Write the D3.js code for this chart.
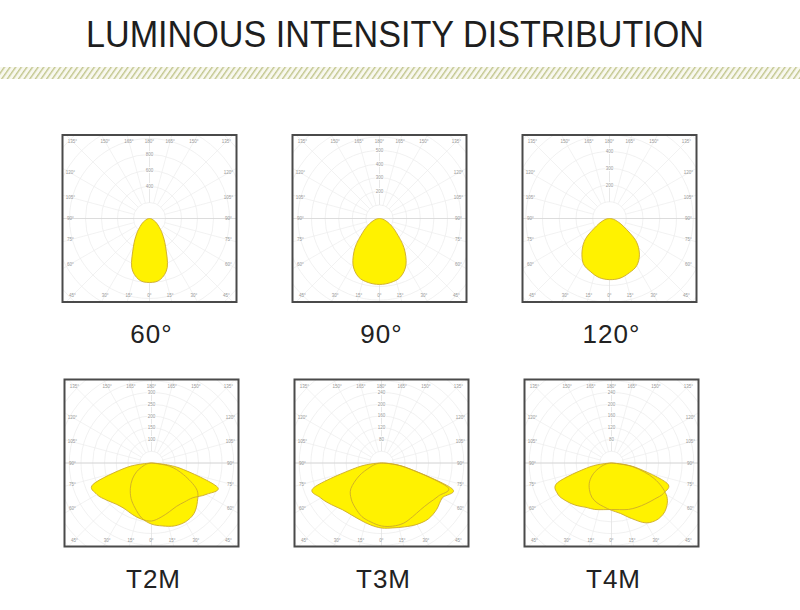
<!DOCTYPE html>
<html>
<head>
<meta charset="utf-8">
<script src="https://cdn.jsdelivr.net/npm/d3@7"></script>
<style>
  body { margin: 0; background: #fff; }
  text { font-family: "Liberation Sans", Arial, sans-serif; }
</style>
</head>
<body>
<div id="chart"></div>
<script>
// angles from nadir, negative = left half of the polar plot
var gamma = [-90,-80,-70,-60,-50,-40,-30,-20,-10,0,10,20,30,40,50,60,70,80,90];

// intensities (cd)
var beam60   = [0,20,45,90,150,250,400,650,775,800,775,650,400,250,150,90,45,20,0];
var beam90   = [0,22,50,95,162,280,390,456,478,485,478,456,390,280,162,95,50,22,0];
var beam120  = [0,20,45,90,185,255,312,336,358,365,362,345,325,278,205,100,50,22,0];
var t2mC0    = [0,106,264,268,247,230,226,234,243,247,234,221,213,217,230,268,298,119,0];
var t2mC90   = [0,17,38,72,106,140,174,204,238,260,272,285,289,281,255,221,145,77,0];
var t3mC0    = [0,82,245,238,221,207,204,207,214,221,224,231,241,248,245,238,255,82,0];
var t3mC90   = [0,17,41,88,136,160,177,194,204,214,218,218,211,207,211,224,238,82,0];
var t4mC0    = [0,74,195,211,201,188,174,168,161,158,161,168,174,181,191,205,201,81,0];
var t4mC90   = [0,17,40,70,97,117,134,144,151,161,174,201,235,248,242,215,154,74,0];

// ring labels on the 180° axis
var rings60  = [400,600,800];
var rings90  = [200,300,400,500];
var rings120 = [200,300,400];
var ringsT2M = [100,150,200,250,300];
var ringsT3M = [80,120,160,200,240];
var ringsT4M = [80,120,160,200,240];

var chartNames = ["60°","90°","120°","T2M","T3M","T4M"];
var angleTicks = [0,15,30,45,60,75,90,105,120,135,150,165,180];

var width = 800, height = 610;

var svg = d3.select("#chart").append("svg")
    .attr("width", width)
    .attr("height", height);

svg.append("rect").attr("width", width).attr("height", height).attr("fill", "#fff");

var defs = svg.append("defs");
var hatch = defs.append("pattern")
    .attr("id", "hatch")
    .attr("patternUnits", "userSpaceOnUse")
    .attr("width", 4.6).attr("height", 4.6)
    .attr("patternTransform", "rotate(35)");
hatch.append("rect").attr("width", 4.6).attr("height", 4.6).attr("fill", "#f8f8ef");
hatch.append("rect").attr("width", 1.4).attr("height", 4.6).attr("fill", "#c2c68d");

svg.append("text")
    .attr("x", 395)
    .attr("y", 47)
    .attr("text-anchor", "middle")
    .attr("textLength", 618)
    .attr("lengthAdjust", "spacingAndGlyphs")
    .style("font-size", "37px")
    .style("fill", "#1e1e1e")
    .text("LUMINOUS INTENSITY DISTRIBUTION");

svg.append("rect")
    .attr("x", 0).attr("y", 67)
    .attr("width", width).attr("height", 12)
    .attr("fill", "url(#hatch)");

var panels = [
  {name: chartNames[0], cx: 149.5, cy: 218.5, max: 800, rmax: 64,   step: 200, rings: rings60,  curves: [beam60]},
  {name: chartNames[1], cx: 379.5, cy: 218.5, max: 500, rmax: 68,   step: 100, rings: rings90,  curves: [beam90]},
  {name: chartNames[2], cx: 609.5, cy: 218.5, max: 400, rmax: 67,   step: 100, rings: rings120, curves: [beam120]},
  {name: chartNames[3], cx: 151.5, cy: 463,   max: 300, rmax: 70.5, step: 50,  rings: ringsT2M, curves: [t2mC0, t2mC90]},
  {name: chartNames[4], cx: 381.5, cy: 463,   max: 240, rmax: 70.6, step: 40,  rings: ringsT3M, curves: [t3mC0, t3mC90]},
  {name: chartNames[5], cx: 611.5, cy: 463,   max: 240, rmax: 70.6, step: 40,  rings: ringsT4M, curves: [t4mC0, t4mC90]}
];

var boxW = 174, boxH = 167;

panels.forEach(function(p, i) {
    var r = d3.scaleLinear().domain([0, p.max]).range([0, p.rmax]);
    var g = svg.append("g").attr("transform", "translate(" + p.cx + "," + p.cy + ")");

    defs.append("clipPath").attr("id", "clip" + i)
      .append("rect")
        .attr("x", -boxW / 2).attr("y", -boxH / 2)
        .attr("width", boxW).attr("height", boxH);

    var grid = g.append("g").attr("clip-path", "url(#clip" + i + ")");
    var outer = Math.sqrt(boxW * boxW + boxH * boxH) / 2;

    // rings
    var ringVals = d3.range(p.step, r.invert(outer) + p.step, p.step);
    grid.selectAll("circle").data(ringVals).enter().append("circle")
        .attr("r", function(d) { return r(d); })
        .attr("fill", "none")
        .attr("stroke", "#ebebeb")
        .attr("stroke-width", 0.7);

    // spokes every 15°
    var spokes = d3.range(0, 360, 15);
    grid.selectAll("line.spoke").data(spokes).enter().append("line")
        .attr("class", "spoke")
        .attr("x1", function(d) { return r(p.step) * Math.sin(d * Math.PI / 180); })
        .attr("y1", function(d) { return r(p.step) * Math.cos(d * Math.PI / 180); })
        .attr("x2", function(d) { return outer * Math.sin(d * Math.PI / 180); })
        .attr("y2", function(d) { return outer * Math.cos(d * Math.PI / 180); })
        .attr("stroke", function(d) { return (d % 90 == 0) ? "#dedede" : "#ececec"; })
        .attr("stroke-width", 0.7);

    grid.append("line")
        .attr("x1", -boxW / 2).attr("x2", boxW / 2)
        .attr("y1", 0).attr("y2", 0)
        .attr("stroke", "#d8d8d8").attr("stroke-width", 0.8);

    // light curves
    var line = d3.lineRadial()
        .angle(function(d) { return Math.PI - d[0] * Math.PI / 180; })
        .radius(function(d) { return r(d[1]); })
        .curve(d3.curveCardinal.tension(0));

    var curveData = p.curves.map(function(vals) {
        return gamma.map(function(a, k) { return [a, vals[k]]; });
    });

    g.selectAll("path.fill").data(curveData).enter().append("path")
        .attr("class", "fill")
        .attr("d", function(d) { return line(d) + "Z"; })
        .attr("fill", "#fff200")
        .attr("stroke", "none");

    g.selectAll("path.edge").data(curveData).enter().append("path")
        .attr("class", "edge")
        .attr("d", function(d) { return line(d) + "Z"; })
        .attr("fill", "none")
        .attr("stroke", "#cdaa2a")
        .attr("stroke-width", 0.9);

    // ring labels
    g.selectAll("text.ring").data(p.rings).enter().append("text")
        .attr("class", "ring")
        .attr("x", 0)
        .attr("y", function(d) { return -r(d) + 1.5; })
        .attr("text-anchor", "middle")
        .style("font-size", "4.5px")
        .style("fill", "#999")
        .style("paint-order", "stroke")
        .style("stroke", "#fff")
        .style("stroke-width", "2px")
        .text(function(d) { return d; });

    // angle labels along the frame
    var ax = boxW / 2 - 8, ay = boxH / 2 - 6.5;
    var tickData = [];
    angleTicks.forEach(function(a) {
        tickData.push(a);
        if (a != 0 && a != 180) tickData.push(-a);
    });
    g.selectAll("text.ang").data(tickData).enter().append("text")
        .attr("class", "ang")
        .attr("transform", function(d) {
            var s = Math.sin(d * Math.PI / 180), c = Math.cos(d * Math.PI / 180);
            var t = Math.min(Math.abs(s) > 1e-6 ? ax / Math.abs(s) : 1e9,
                             Math.abs(c) > 1e-6 ? ay / Math.abs(c) : 1e9);
            return "translate(" + (s * t) + "," + (c * t + 1.5) + ")";
        })
        .attr("text-anchor", "middle")
        .style("font-size", "4.5px")
        .style("fill", "#999")
        .text(function(d) { return Math.abs(d) + "°"; });

    // frame
    g.append("rect")
        .attr("x", -boxW / 2).attr("y", -boxH / 2)
        .attr("width", boxW).attr("height", boxH)
        .attr("fill", "none")
        .attr("stroke", "#4a4a4a")
        .attr("stroke-width", 2);

    svg.append("text")
        .attr("x", p.cx + 2)
        .attr("y", p.cy + boxH / 2 + 41)
        .attr("text-anchor", "middle")
        .style("font-size", "26px")
        .style("fill", "#222")
        .style("letter-spacing", "1px")
        .text(p.name);
});
</script>
</body>
</html>
